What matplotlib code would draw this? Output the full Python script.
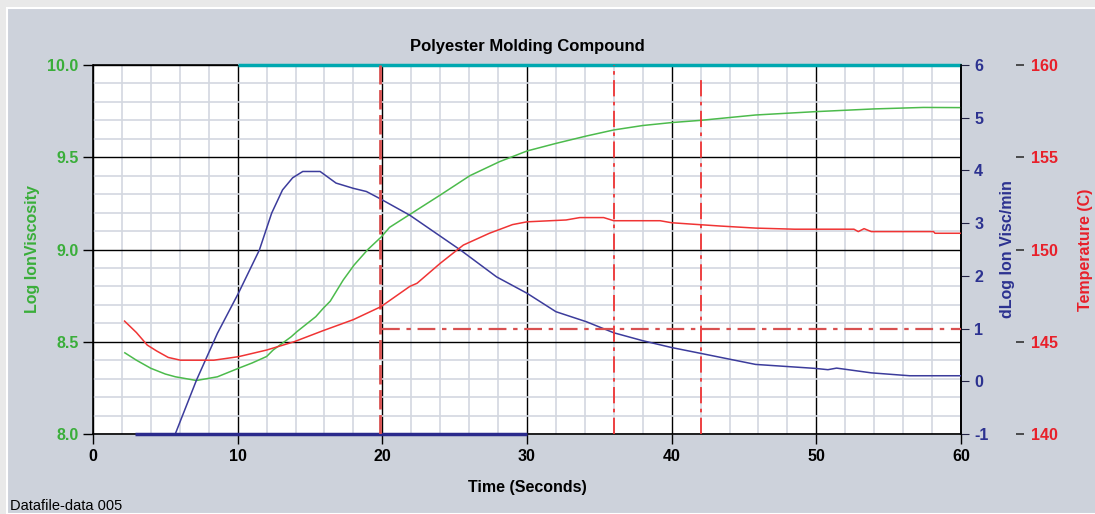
import matplotlib
matplotlib.use("Agg")
import matplotlib.pyplot as plt
from matplotlib.ticker import MultipleLocator

plt.rcParams['font.family'] = ['Liberation Sans', 'DejaVu Sans']
plt.rcParams['axes.unicode_minus'] = False

# === Log Ion Viscosity (green, left axis)
t_visc = [2.2, 3.0, 4.0, 5.0, 5.7, 7.15, 8.6, 10.05, 11.0, 12.0, 12.45, 13.7, 14.1,
          15.4, 15.9, 16.4, 17.3, 18.05, 19.0, 19.95, 20.5, 21.9, 24.0, 26.05, 28.1,
          30.0, 32.0, 34.1, 36.0, 38.0, 40.0, 42.0, 45.8, 49.9, 54.0, 57.4, 60.0]
log_visc = [8.44, 8.40, 8.356, 8.325, 8.31, 8.29, 8.31, 8.356, 8.385, 8.42, 8.455, 8.527, 8.555,
            8.636, 8.68, 8.72, 8.835, 8.916, 9.0, 9.07, 9.12, 9.19, 9.295, 9.40, 9.476,
            9.534, 9.575, 9.615, 9.648, 9.672, 9.688, 9.70, 9.729, 9.747, 9.762, 9.77, 9.769]

# === Temperature (red, outer right axis)
t_temp = [2.18, 3.0, 3.75, 4.4, 5.2, 6.05, 8.35, 10.05, 12.0, 13.9, 15.9, 18.0, 19.9,
          21.9, 22.4, 24.0, 25.6, 27.4, 29.0, 30.0, 32.7, 33.65, 35.3, 36.0, 39.2,
          40.0, 41.3, 43.4, 45.8, 48.5, 52.6, 52.9, 53.3, 53.8, 58.1, 58.2, 60.0]
temp = [146.12, 145.5, 144.82, 144.5, 144.15, 144.0, 144.0, 144.19, 144.55, 145.0, 145.6, 146.2, 146.9,
        148.0, 148.17, 149.25, 150.24, 150.88, 151.35, 151.5, 151.6, 151.73, 151.73, 151.56, 151.56,
        151.45, 151.38, 151.27, 151.16, 151.1, 151.1, 150.97, 151.13, 150.97, 150.97, 150.88, 150.88]

# === dLog Ion Visc/min (blue, inner right axis)
t_dlog = [5.7, 7.15, 8.6, 10.05, 11.5, 12.35, 13.1, 13.8, 14.5, 15.7, 16.8, 18.0, 18.9,
          19.8, 21.9, 25.4, 27.9, 30.0, 32.0, 34.1, 36.0, 38.0, 40.0, 42.0, 45.8,
          49.9, 50.8, 51.4, 53.8, 56.45, 60.0]
dlog = [-0.99, 0.02, 0.91, 1.67, 2.49, 3.19, 3.63, 3.86, 3.98, 3.98, 3.76, 3.66, 3.60,
        3.47, 3.15, 2.49, 1.98, 1.67, 1.32, 1.13, 0.92, 0.77, 0.64, 0.53, 0.32,
        0.245, 0.22, 0.25, 0.16, 0.105, 0.105]

# === Markers
cyan_span = [10, 60]
navy_span = [2.9, 30]
marker_x = [19.85, 36, 42]
marker_top = 5.77      # top of the x=42 marker, in dLog units
ref_dlog = 1           # horizontal reference line, from x=20 to 60

bg = '#cdd2db'
green_txt = '#3aae3a'
green_line = '#4cbb4c'
navy = '#2c3290'
blue_line = '#3c3c9c'
red_txt = '#e8202a'
red_line = '#f03434'
dash_red = '#d85050'

fig = plt.figure(figsize=(10.95, 5.14), dpi=100)
fig.patch.set_facecolor('#e9e9e9')
fig.patches.append(plt.Rectangle((7 / 1095, 0), 1, 1 - 8 / 514, transform=fig.transFigure,
                                 facecolor=bg, edgecolor='white', lw=1.5, zorder=-10))

ax = fig.add_axes([93 / 1095, 80 / 514, 868 / 1095, 369 / 514])
ax.set_facecolor('white')
ax.set_xlim(0, 60)
ax.set_ylim(8.0, 10.0)
ax.xaxis.set_major_locator(MultipleLocator(10))
ax.xaxis.set_minor_locator(MultipleLocator(2))
ax.yaxis.set_major_locator(MultipleLocator(0.5))
ax.yaxis.set_minor_locator(MultipleLocator(0.1))
ax.grid(which='minor', color='#d3d7e0', lw=1.2, zorder=0)
ax.grid(which='major', color='black', lw=1.0, zorder=1)
ax.set_axisbelow(True)
ax.tick_params(which='minor', length=0)
ax.tick_params(which='major', length=7, width=1, direction='out')
ax.tick_params(axis='y', labelcolor=green_txt, labelsize=11.5)
ax.tick_params(axis='x', labelcolor='black', labelsize=11.5)
for lab in ax.get_xticklabels() + ax.get_yticklabels():
    lab.set_fontweight('bold')
ax.yaxis.set_major_formatter(plt.FormatStrFormatter('%.1f'))
for s in ax.spines.values():
    s.set_color('black')
    s.set_linewidth(1.2)
ax.spines['top'].set_visible(False)

ax.plot(t_visc, log_visc, color=green_line, lw=1.1, zorder=5)
ax.hlines(10.0, 0, cyan_span[0], color='black', lw=1.2, zorder=6, clip_on=False)
ax.hlines(10.0, cyan_span[0], cyan_span[1], color='#00a8b0', lw=2.5, zorder=6, clip_on=False)

ax.set_ylabel('Log IonViscosity', color=green_txt, fontsize=11.5, fontweight='bold', labelpad=5)
ax.set_xlabel('Time (Seconds)', color='black', fontsize=11.5, fontweight='bold', labelpad=12)
ax.set_title('Polyester Molding Compound', fontsize=12, fontweight='bold', pad=10)

# blue axis
ax2 = ax.twinx()
ax2.set_ylim(-1, 6)
ax2.yaxis.set_major_locator(MultipleLocator(1))
ax2.tick_params(axis='y', length=6, color='#222244', labelcolor=navy, labelsize=11.5)
for lab in ax2.get_yticklabels():
    lab.set_fontweight('bold')
for s in ax2.spines.values():
    s.set_visible(False)
ax2.spines['right'].set_visible(True)
ax2.spines['right'].set_color('black')
ax2.spines['right'].set_linewidth(1.2)
ax2.plot(t_dlog, dlog, color=blue_line, lw=1.1, zorder=5)
ax2.hlines(-1, navy_span[0], navy_span[1], color='#2a2a8c', lw=2.5, zorder=6, clip_on=False)
ax2.set_ylabel('dLog Ion Visc/min', color=navy, fontsize=11.5, fontweight='bold', labelpad=8)

# red markers
ax2.vlines(marker_x[0], -1, 6, color=dash_red, lw=2.0, linestyles=(0, (7, 2)), zorder=7)
ax2.vlines(marker_x[1], -1, 6, color=red_line, lw=1.3, linestyles=(0, (9, 3, 2, 3)), zorder=7)
ax2.vlines(marker_x[2], -1, marker_top, color=red_line, lw=1.3, linestyles=(0, (9, 3, 2, 3)), zorder=7)
ax2.hlines(ref_dlog, 20, 60, color=dash_red, lw=1.6, linestyles=(0, (8, 3, 2, 3)), zorder=7)

# temperature axis
ax3 = ax.twinx()
ax3.set_ylim(140, 160)
ax3.yaxis.set_major_locator(MultipleLocator(5))
ax3.spines['right'].set_position(('axes', (1016 - 93) / 868))
for s in ax3.spines.values():
    s.set_visible(False)
ax3.tick_params(axis='y', length=6, width=1.2, color='#333333', labelcolor=red_txt,
                labelsize=11.5, pad=5)
for lab in ax3.get_yticklabels():
    lab.set_fontweight('bold')
ax3.plot(t_temp, temp, color=red_line, lw=1.1, zorder=5)
ax3.set_ylabel('Temperature (C)', color=red_txt, fontsize=11.5, fontweight='bold', labelpad=14)

fig.text(10 / 1095, 1 / 514, 'Datafile-data 005', fontsize=10.5, color='black', va='bottom')

fig.savefig('out.png', dpi=100, facecolor=fig.get_facecolor())
